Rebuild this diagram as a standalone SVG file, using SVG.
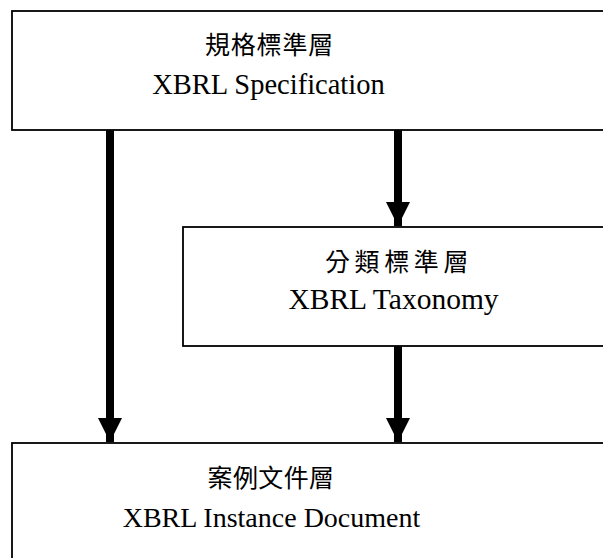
<svg xmlns="http://www.w3.org/2000/svg" width="603" height="558" viewBox="0 0 603 558">
<style>
.box{fill:#fff;stroke:#000;stroke-width:1.8}
.cjk{fill:#000;text-anchor:middle}
.en{fill:#000;text-anchor:middle}
.conn{stroke:#000;stroke-width:8;fill:none}
</style>
<defs>
<marker id="ah" markerUnits="userSpaceOnUse" markerWidth="24" markerHeight="24" viewBox="0 0 24 24" refX="24" refY="12" orient="auto">
<path d="M0,0 L24,12 L0,24 Z" fill="#000"/>
</marker>
</defs>
<g id="spec">
<rect class="box" x="12" y="11" width="620" height="119"/>
<text class="cjk" x="269.5" y="54" font-family="Noto Sans CJK TC, sans-serif" font-size="25" letter-spacing="0.8">規格標準層</text>
<text class="en" x="268.5" y="94" font-family="Liberation Serif" font-size="28.5">XBRL Specification</text>
</g>
<g id="taxonomy">
<rect class="box" x="183" y="227" width="450" height="119"/>
<text class="cjk" x="399" y="271" font-family="Noto Sans CJK TC, sans-serif" font-size="25" letter-spacing="4.6">分類標準層</text>
<text class="en" x="393.5" y="309" font-family="Liberation Serif" font-size="29.5">XBRL Taxonomy</text>
</g>
<g id="instance">
<rect class="box" x="12" y="443" width="620" height="130"/>
<text class="cjk" x="271" y="487" font-family="Noto Sans CJK TC, sans-serif" font-size="25" letter-spacing="0.4">案例文件層</text>
<text class="en" x="271.5" y="527" font-family="Liberation Serif" font-size="28">XBRL Instance Document</text>
</g>
<g id="connectors">
<line class="conn" x1="110" y1="130" x2="110" y2="442" marker-end="url(#ah)"/>
<line class="conn" x1="398" y1="130" x2="398" y2="226" marker-end="url(#ah)"/>
<line class="conn" x1="398" y1="346" x2="398" y2="442" marker-end="url(#ah)"/>
</g>
</svg>
